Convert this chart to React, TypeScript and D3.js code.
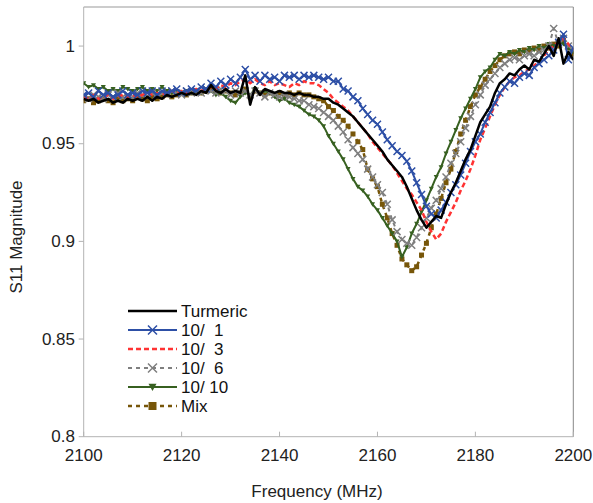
import React from "react";
import * as d3 from "d3";

// frequency axis, 1 MHz steps
const freqs = d3.range(2100, 2201);

const turmeric = [
  0.973, 0.972, 0.973, 0.971, 0.972, 0.973, 0.971, 0.972, 0.971, 0.973,
  0.972, 0.973, 0.972, 0.974, 0.972, 0.974, 0.973, 0.975, 0.974, 0.975,
  0.976, 0.975, 0.976, 0.975, 0.977, 0.976, 0.980, 0.977, 0.976, 0.978,
  0.976, 0.977, 0.976, 0.985, 0.970, 0.979, 0.975, 0.978, 0.977, 0.976,
  0.977, 0.976, 0.976, 0.975, 0.976, 0.975, 0.975, 0.974, 0.974, 0.973,
  0.973, 0.971, 0.970, 0.968, 0.966, 0.964, 0.961, 0.958, 0.955, 0.952,
  0.949, 0.946, 0.942, 0.939, 0.936, 0.933, 0.928, 0.922, 0.916, 0.911,
  0.907, 0.910, 0.913, 0.912, 0.919, 0.925, 0.930, 0.936, 0.942, 0.947,
  0.954, 0.961, 0.965, 0.969, 0.976, 0.981, 0.983, 0.986, 0.985, 0.988,
  0.990, 0.988, 0.993, 0.992, 0.996, 1.000, 0.995, 1.004, 0.991, 0.997,
  0.993,
];

const s10_1 = [
  0.975, 0.976, 0.974, 0.977, 0.975, 0.976, 0.974, 0.975, 0.977, 0.975,
  0.976, 0.975, 0.977, 0.976, 0.977, 0.975, 0.977, 0.976, 0.977, 0.978,
  0.976, 0.977, 0.978, 0.977, 0.979, 0.978, 0.981, 0.979, 0.982, 0.980,
  0.983, 0.981, 0.984, 0.988, 0.983, 0.985, 0.982, 0.985, 0.983, 0.984,
  0.982, 0.985, 0.984, 0.985, 0.983, 0.985, 0.984, 0.985, 0.984, 0.983,
  0.984, 0.982, 0.982, 0.978, 0.977, 0.974, 0.972, 0.968, 0.965, 0.962,
  0.960, 0.956, 0.952, 0.949, 0.946, 0.944, 0.941, 0.936, 0.930, 0.924,
  0.918, 0.914, 0.912, 0.916, 0.920, 0.925, 0.929, 0.934, 0.940, 0.946,
  0.951, 0.955, 0.961, 0.966, 0.971, 0.976, 0.979, 0.982, 0.981, 0.984,
  0.986, 0.985, 0.989, 0.991, 0.993, 0.995, 0.998, 1.002, 1.006, 0.993,
  0.999,
];

const s10_3 = [
  0.974, 0.973, 0.975, 0.973, 0.974, 0.975, 0.973, 0.974, 0.975, 0.974,
  0.975, 0.974, 0.975, 0.976, 0.975, 0.976, 0.975, 0.976, 0.977, 0.976,
  0.977, 0.976, 0.977, 0.978, 0.977, 0.978, 0.979, 0.978, 0.980, 0.979,
  0.981, 0.980, 0.982, 0.983, 0.981, 0.983, 0.981, 0.980, 0.982, 0.980,
  0.981, 0.980, 0.979, 0.981, 0.980, 0.982, 0.981, 0.981, 0.980, 0.978,
  0.976, 0.973, 0.971, 0.969, 0.967, 0.964, 0.961, 0.958, 0.955, 0.951,
  0.948, 0.945, 0.942, 0.939, 0.935, 0.931, 0.927, 0.924, 0.920, 0.916,
  0.910, 0.905, 0.901, 0.904, 0.910, 0.915, 0.920, 0.926, 0.931, 0.937,
  0.944, 0.952, 0.958, 0.964, 0.970, 0.975, 0.979, 0.982, 0.984, 0.985,
  0.987, 0.988, 0.990, 0.992, 0.995, 0.998, 1.000, 1.002, 1.004, 1.001,
  0.998,
];

const s10_6 = [
  0.974, 0.973, 0.975, 0.974, 0.973, 0.975, 0.974, 0.976, 0.974, 0.975,
  0.974, 0.976, 0.975, 0.974, 0.976, 0.975, 0.976, 0.975, 0.977, 0.976,
  0.975, 0.977, 0.976, 0.977, 0.976, 0.978, 0.977, 0.976, 0.978, 0.977,
  0.975, 0.977, 0.976, 0.977, 0.975, 0.977, 0.976, 0.974, 0.976, 0.975,
  0.974, 0.975, 0.974, 0.973, 0.972, 0.972, 0.970, 0.969, 0.968, 0.966,
  0.964, 0.962, 0.959, 0.956, 0.952, 0.948, 0.945, 0.942, 0.937, 0.933,
  0.929, 0.925, 0.919, 0.911, 0.905, 0.901, 0.899, 0.898, 0.902, 0.907,
  0.912, 0.917, 0.921, 0.927, 0.933, 0.940, 0.945, 0.951, 0.958, 0.964,
  0.970, 0.975, 0.980, 0.983, 0.986, 0.989, 0.991, 0.993, 0.994, 0.993,
  0.995, 0.996, 0.995, 0.997, 0.998, 1.000, 1.009, 1.001, 1.004, 1.000,
  0.998,
];

const s10_10 = [
  0.981, 0.979, 0.980, 0.978, 0.979, 0.977, 0.978, 0.977, 0.979, 0.978,
  0.977, 0.978, 0.979, 0.977, 0.978, 0.977, 0.979, 0.977, 0.976, 0.977,
  0.976, 0.977, 0.976, 0.977, 0.976, 0.978, 0.977, 0.975, 0.976, 0.974,
  0.972, 0.971, 0.974, 0.976, 0.975, 0.978, 0.976, 0.977, 0.976, 0.974,
  0.972, 0.973, 0.971, 0.970, 0.969, 0.967, 0.965, 0.964, 0.962, 0.959,
  0.954, 0.950, 0.946, 0.942, 0.937, 0.932, 0.928, 0.926, 0.923, 0.919,
  0.916, 0.912, 0.908, 0.904, 0.900, 0.892, 0.897, 0.904, 0.909, 0.915,
  0.921, 0.927, 0.933, 0.938, 0.945, 0.951, 0.957, 0.963, 0.968, 0.973,
  0.978, 0.984, 0.987, 0.989, 0.993, 0.996, 0.995, 0.997, 0.996, 0.998,
  0.997, 0.999, 0.998, 1.000, 0.999, 1.001, 1.000, 1.002, 1.001, 0.999,
  0.997,
];

const mix = [
  0.972, 0.973, 0.971, 0.972, 0.973, 0.972, 0.971, 0.973, 0.972, 0.973,
  0.972, 0.974, 0.973, 0.972, 0.974, 0.973, 0.974, 0.975, 0.974, 0.975,
  0.976, 0.975, 0.976, 0.977, 0.976, 0.977, 0.978, 0.977, 0.976, 0.977,
  0.976, 0.975, 0.976, 0.978, 0.974, 0.977, 0.976, 0.975, 0.976, 0.975,
  0.976, 0.975, 0.976, 0.975, 0.976, 0.975, 0.975, 0.974, 0.973, 0.972,
  0.969, 0.967, 0.964, 0.962, 0.959, 0.955, 0.951, 0.947, 0.937, 0.932,
  0.928, 0.919, 0.912, 0.904, 0.898, 0.891, 0.888, 0.885, 0.887, 0.893,
  0.899, 0.907, 0.914, 0.922, 0.930, 0.937, 0.946, 0.955, 0.962, 0.969,
  0.975, 0.979, 0.983, 0.987, 0.990, 0.993, 0.995, 0.996, 0.997, 0.996,
  0.998, 0.997, 0.999, 0.998, 1.000, 0.999, 1.001, 1.000, 1.003, 0.999,
  0.996,
];

const xTicks = [2100, 2120, 2140, 2160, 2180, 2200];
const yTicks = [0.8, 0.85, 0.9, 0.95, 1];

type Marker = "none" | "x" | "tri" | "square";
const series: {name: string; values: number[]; color: string; width: number; dash?: string; marker: Marker}[] = [
  {name: "Turmeric", values: turmeric, color: "#000000", width: 2.5, marker: "none"},
  {name: "10/  1", values: s10_1, color: "#2d4fa6", width: 2, marker: "x"},
  {name: "10/  3", values: s10_3, color: "#ff3333", width: 2.5, dash: "5,3", marker: "none"},
  {name: "10/  6", values: s10_6, color: "#7f7f7f", width: 2, dash: "4,4", marker: "x"},
  {name: "10/ 10", values: s10_10, color: "#376020", width: 2, marker: "tri"},
  {name: "Mix", values: mix, color: "#775609", width: 2.5, dash: "4,4", marker: "square"},
];

const left = 83.7, right = 573.3, top = 7, bottom = 436.7;

const x = d3.scaleLinear().domain([2100, 2200]).range([left, right]);
const y = d3.scaleLinear().domain([0.8, 1.02]).range([bottom, top]);

const font = "'Liberation Sans', Arial, sans-serif";

function drawMarker(kind: Marker, cx: number, cy: number, s: number, color: string, key: string | number) {
  if (kind === "x") {
    const h = s / 2;
    return <path key={key} d={`M${cx - h},${cy - h}L${cx + h},${cy + h}M${cx - h},${cy + h}L${cx + h},${cy - h}`} stroke={color} strokeWidth={1.5} fill="none" />;
  }
  if (kind === "tri") {
    const h = s / 2;
    return <path key={key} d={`M${cx - h},${cy - h * 0.8}L${cx + h},${cy - h * 0.8}L${cx},${cy + h}Z`} fill={color} />;
  }
  if (kind === "square") {
    return <rect key={key} x={cx - s / 2} y={cy - s / 2} width={s} height={s} fill={color} />;
  }
  return null;
}

const App = () => {
  const line = d3.line<number>()
    .x((_, i) => x(freqs[i]))
    .y(d => y(d));

  const drawOrder = [...series].reverse();

  return (
    <svg width={593} height={503} style={{position: "absolute", left: 0, top: 0}} fontFamily={font}>
      <rect width={593} height={503} fill="#fff" />
      <defs>
        <clipPath id="plot">
          <rect x={left} y={top} width={right - left} height={bottom - top} />
        </clipPath>
      </defs>

      {/* frame */}
      <line x1={left} x2={right} y1={top} y2={top} stroke="#999" />
      <line x1={right} x2={right} y1={top} y2={bottom} stroke="#888" />
      <line x1={left} x2={left} y1={top} y2={bottom} stroke="#b3b3b3" />
      <line x1={left} x2={right} y1={bottom} y2={bottom} stroke="#b3b3b3" />

      {yTicks.map(t => (
        <g key={t}>
          <line x1={left - 5} x2={left} y1={y(t)} y2={y(t)} stroke="#b3b3b3" />
          <text x={75} y={y(t)} textAnchor="end" dominantBaseline="central" fontSize={17} fill="#222">{t}</text>
        </g>
      ))}
      {xTicks.map(t => (
        <g key={t}>
          <line x1={x(t)} x2={x(t)} y1={bottom} y2={bottom - 5} stroke="#b3b3b3" />
          <text x={x(t)} y={455} textAnchor="middle" dominantBaseline="central" fontSize={17} fill="#222">{t}</text>
        </g>
      ))}

      <text x={317} y={491} textAnchor="middle" dominantBaseline="central" fontSize={17} fill="#222">Frequency (MHz)</text>
      <text transform={`translate(16.5,237) rotate(-90)`} textAnchor="middle" dominantBaseline="central" fontSize={17} fill="#222">S11 Magnitude</text>

      <g clipPath="url(#plot)">
        {drawOrder.map(s => (
          <g key={s.name}>
            <path d={line(s.values) || ""} fill="none" stroke={s.color} strokeWidth={s.width} strokeDasharray={s.dash} strokeLinejoin="round" />
            {s.marker !== "none" && s.values.map((v, i) => drawMarker(s.marker, x(freqs[i]), y(v), s.marker === "x" ? 7 : 5, s.color, i))}
          </g>
        ))}
      </g>

      {/* legend */}
      {series.map((s, i) => {
        const cy = 311 + i * 19;
        return (
          <g key={s.name}>
            <line x1={128} x2={177} y1={cy} y2={cy} stroke={s.color} strokeWidth={s.width} strokeDasharray={s.dash} />
            {drawMarker(s.marker, 152.5, cy, s.marker === "x" ? 9 : 8, s.color, "m")}
            <text x={181} y={cy} dominantBaseline="central" fontSize={17} fill="#111" style={{whiteSpace: "pre"}}>{s.name}</text>
          </g>
        );
      })}
    </svg>
  );
};

export default App;
